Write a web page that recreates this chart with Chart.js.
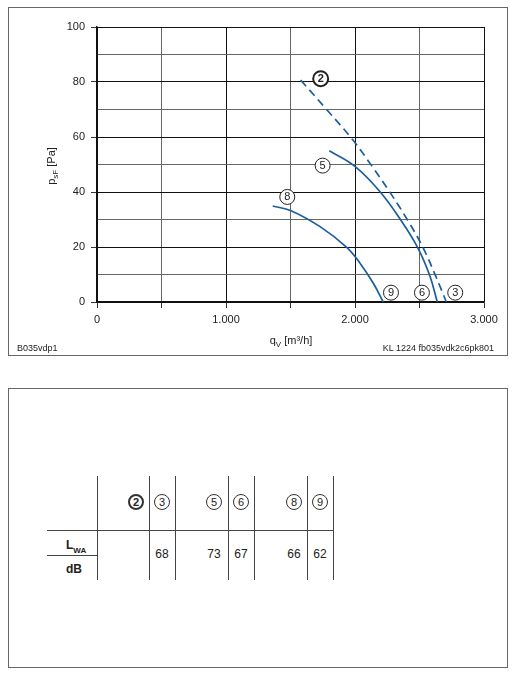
<!DOCTYPE html>
<html>
<head>
<meta charset="utf-8">
<script src="https://cdn.jsdelivr.net/npm/chart.js@4"></script>
<style>
  body { margin: 0; background: #fff; font-family: "Liberation Sans", Arial, sans-serif; color: #222; }
  .page { position: relative; width: 510px; height: 680px; }
  .box { position: absolute; border: 1px solid #666; }
  .wrap { position: absolute; left: 0; top: 0; width: 510px; height: 360px; }
  .txt { position: absolute; white-space: nowrap; line-height: 1; }
  .ln { position: absolute; background: #444; }
  .circ { position: absolute; width: 14px; height: 14px; border: 1px solid #333; border-radius: 50%;
          font-size: 11px; line-height: 14px; text-align: center; box-sizing: content-box; color: #222; }
  .circ.bold { border-width: 2px; width: 12px; height: 12px; line-height: 12px; font-weight: bold; }
</style>
</head>
<body>
<div class="page" id="page">
  <div class="box" style="left:8px;top:7px;width:498px;height:347px;"></div>
  <div class="box" style="left:8px;top:388px;width:498px;height:278px;"></div>
  <div class="wrap"><canvas id="chartFan"></canvas></div>
  <div class="txt" style="left:17px;top:344px;font-size:9px;">B035vdp1</div>
  <div class="txt" style="right:16px;top:344px;font-size:9px;">KL 1224 fb035vdk2c6pk801</div>
</div>
<script>
  // curve 2 -> 3 (dashed)
  const q23 = [1579, 1780, 1987, 2130, 2275, 2410, 2525, 2625, 2708];
  const p23 = [80.7, 70.0, 58.7, 49.5, 39.6, 29.6, 20.0, 9.5, 0];
  // curve 5 -> 6
  const q56 = [1801, 2002, 2194, 2355, 2485, 2578, 2638];
  const p56 = [55.0, 49.2, 40.1, 29.8, 19.9, 9.8, 0];
  // curve 8 -> 9
  const q89 = [1362, 1504, 1729, 1936, 2039, 2142, 2219];
  const p89 = [34.9, 33.2, 27.4, 19.9, 14.1, 6.8, 0];

  // circled point labels on the chart
  const markNums = ['2', '5', '8', '9', '6', '3'];
  const markQ = [1734, 1749, 1475, 2279, 2519, 2777];
  const markP = [81.2, 49.6, 38.2, 3.4, 3.4, 3.4];

  // sound power table
  const tableNums = ['2', '3', '5', '6', '8', '9'];
  const tableLwa = [null, 68, 73, 67, 66, 62];

  const blue = '#1c5e9c';
  const pts = (qs, ps) => qs.map((q, i) => ({ x: q, y: ps[i] }));

  const overlay = {
    id: 'overlay',
    afterDatasetsDraw(chart) {
      const { ctx, scales: { x, y } } = chart;
      ctx.save();
      markNums.forEach((n, i) => {
        const cx = x.getPixelForValue(markQ[i]);
        const cy = y.getPixelForValue(markP[i]);
        const bold = n === '2';
        ctx.beginPath();
        ctx.arc(cx, cy, 7.5, 0, Math.PI * 2);
        ctx.fillStyle = '#fff';
        ctx.fill();
        ctx.lineWidth = bold ? 2 : 1;
        ctx.strokeStyle = '#222';
        ctx.stroke();
        ctx.fillStyle = '#222';
        ctx.font = (bold ? 'bold ' : '') + '11px "Liberation Sans", Arial';
        ctx.textAlign = 'center';
        ctx.textBaseline = 'middle';
        ctx.fillText(n, cx, cy + 0.5);
      });
      ctx.restore();
    },
    afterDraw(chart) {
      const ctx = chart.ctx;
      const drawParts = (parts, cx, cy) => {
        let w = 0;
        parts.forEach(p => { ctx.font = p[1] + 'px "Liberation Sans", Arial'; w += ctx.measureText(p[0]).width; });
        let px = cx - w / 2;
        parts.forEach(p => {
          ctx.font = p[1] + 'px "Liberation Sans", Arial';
          ctx.fillText(p[0], px, cy + p[2]);
          px += ctx.measureText(p[0]).width;
        });
      };
      ctx.save();
      ctx.fillStyle = '#222';
      ctx.textAlign = 'left';
      ctx.textBaseline = 'alphabetic';
      drawParts([['q', 11, 0], ['V', 8, 3], [' [m³/h]', 11, 0]], 291, 344);
      ctx.translate(55, 166);
      ctx.rotate(-Math.PI / 2);
      drawParts([['p', 11, 0], ['sF', 8, 3], [' [Pa]', 11, 0]], 0, 0);
      ctx.restore();
    }
  };

  new Chart(document.getElementById('chartFan'), {
    type: 'scatter',
    data: {
      datasets: [
        { data: pts(q23, p23), borderDash: [8, 5] },
        { data: pts(q56, p56) },
        { data: pts(q89, p89) },
      ].map(d => Object.assign({
        showLine: true, borderColor: blue, borderWidth: 1.7, pointRadius: 0,
        tension: 0.4, fill: false,
      }, d)),
    },
    options: {
      responsive: true, maintainAspectRatio: false, animation: false,
      layout: { padding: { left: 0, top: 27, right: 26, bottom: 0 } },
      plugins: { legend: { display: false }, tooltip: { enabled: false } },
      scales: {
        x: {
          min: 0, max: 3000,
          afterFit: s => { s.height = 58; },
          ticks: {
            stepSize: 500, autoSkip: false, maxRotation: 0, padding: 5,
            color: '#222', font: { size: 11, family: '"Liberation Sans", Arial' },
            callback: v => v % 1000 ? '' : (v === 0 ? '0' : (v / 1000) + '.000'),
          },
          grid: {
            tickLength: 6, lineWidth: 1,
            color: c => c.tick && c.tick.value % 1000 ? '#666' : '#111',
            tickColor: '#333',
          },
          border: { color: '#111', width: 1.5 },
        },
        y: {
          min: 0, max: 100,
          afterFit: s => { s.width = 97; },
          ticks: {
            stepSize: 10, autoSkip: false, padding: 6,
            color: '#222', font: { size: 11, family: '"Liberation Sans", Arial' },
            callback: v => v % 20 ? '' : v,
          },
          grid: {
            tickLength: 6, lineWidth: 1,
            color: c => c.tick && c.tick.value % 20 ? '#666' : '#111',
            tickColor: c => c.tick && c.tick.value % 20 ? 'rgba(0,0,0,0)' : '#333',
          },
          border: { color: '#111', width: 1.5 },
        },
      },
    },
    plugins: [overlay],
  });

  // table below the chart
  const page = document.getElementById('page');
  const add = (cls, style, text) => {
    const el = document.createElement('div');
    el.className = cls;
    el.style.cssText = style;
    if (text != null) el.innerHTML = text;
    page.appendChild(el);
    return el;
  };
  const colX = [136, 162, 214, 241, 294, 320];
  [97, 149, 175, 228, 254, 307, 333].forEach(x => add('ln', `left:${x}px;top:476px;width:1px;height:104px;`));
  add('ln', 'left:47px;top:530px;width:287px;height:1px;');
  add('ln', 'left:47px;top:555px;width:50px;height:1px;');
  tableNums.forEach((n, i) => {
    const bold = n === '2';
    add('circ' + (bold ? ' bold' : ''), `left:${colX[i] - 8}px;top:${502 - 8}px;`, n);
    if (tableLwa[i] != null) {
      add('txt', `left:${colX[i] - 20}px;width:40px;text-align:center;top:548px;font-size:12px;`, tableLwa[i]);
    }
  });
  add('txt', 'left:66px;top:539px;font-size:12px;font-weight:bold;', 'L<span style="font-size:8px;position:relative;top:4px;">WA</span>');
  add('txt', 'left:66px;top:563px;font-size:12px;font-weight:bold;', 'dB');
</script>
</body>
</html>
